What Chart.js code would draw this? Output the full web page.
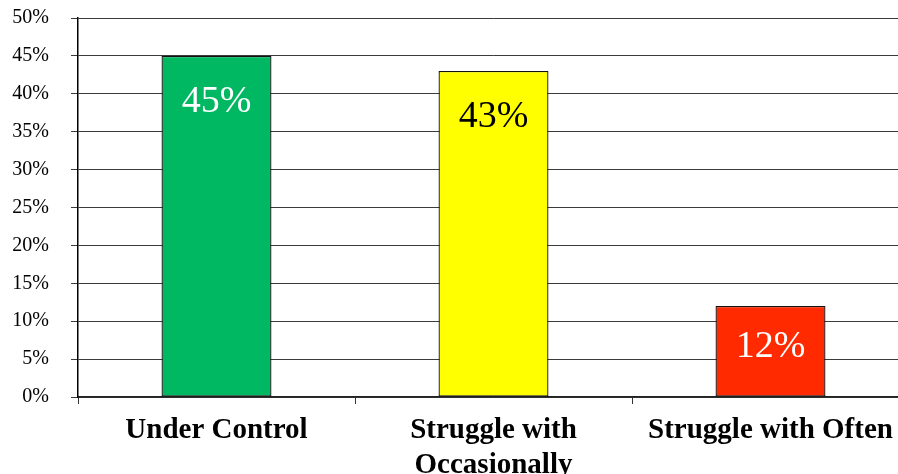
<!DOCTYPE html>
<html>
<head>
<meta charset="utf-8">
<script src="https://cdn.jsdelivr.net/npm/chart.js@4/dist/chart.umd.min.js"></script>
<style>
  html, body { margin: 0; padding: 0; background: #fff; overflow: hidden; }
  #wrap { position: relative; width: 909px; height: 474px; }
</style>
</head>
<body>
<div id="wrap"><canvas id="chart"></canvas></div>
<script>
// Survey responses: how well people keep the issue under control
const categories = ['Under Control', ['Struggle with', 'Occasionally'], 'Struggle with Often'];
const shares = [45, 43, 12];
const yTicks = [0, 5, 10, 15, 20, 25, 30, 35, 40, 45, 50];

const barColors = ['#00B862', '#FFFF00', '#FF2A00'];
const valueColors = ['#FFFFFF', '#000000', '#FFFFFF'];

// Writes each bar's percentage inside the bar, near its top
const valueLabels = {
  id: 'valueLabels',
  afterDatasetsDraw(chart) {
    const ctx = chart.ctx;
    const meta = chart.getDatasetMeta(0);
    ctx.save();
    ctx.font = '38px "Liberation Serif", serif';
    ctx.textAlign = 'center';
    ctx.textBaseline = 'middle';
    meta.data.forEach((bar, i) => {
      const h = bar.base - bar.y;
      const off = Math.min(46, h / 2 - 4);
      ctx.fillStyle = valueColors[i];
      ctx.fillText(shares[i] + '%', bar.x, bar.y + off);
    });
    ctx.restore();
  }
};

new Chart(document.getElementById('chart'), {
  type: 'bar',
  data: {
    labels: categories,
    datasets: [{
      data: shares,
      backgroundColor: barColors,
      borderColor: '#111',
      borderWidth: 1.3,
      borderSkipped: false,
      categoryPercentage: 1,
      barPercentage: 0.397
    }]
  },
  options: {
    responsive: true,
    maintainAspectRatio: false,
    animation: false,
    devicePixelRatio: 1,
    layout: { padding: { top: 18, right: 0, bottom: 0, left: 0 } },
    plugins: {
      legend: { display: false },
      tooltip: { enabled: false }
    },
    scales: {
      x: {
        offset: true,
        grid: {
          offset: true,
          drawOnChartArea: false,
          drawTicks: true,
          tickLength: 7,
          color: '#333'
        },
        border: { color: '#222', width: 1.5 },
        ticks: {
          color: '#000',
          padding: 9,
          maxRotation: 0,
          autoSkip: false,
          font: { family: '"Liberation Serif", serif', size: 29, weight: 'bold', lineHeight: 1.2 }
        },
        afterFit(scale) {
          scale.height = 77;
          scale.paddingTop = 0;
          scale.paddingBottom = 0;
        }
      },
      y: {
        min: 0,
        max: 50,
        afterBuildTicks(scale) { scale.ticks = yTicks.map(v => ({ value: v })); },
        grid: {
          color: '#3a3a3a',
          lineWidth: 1,
          drawTicks: true,
          tickLength: 7
        },
        border: { color: '#000', width: 1.5 },
        ticks: {
          color: '#000',
          padding: 22,
          font: { family: '"Liberation Serif", serif', size: 20 },
          callback: v => v + '%'
        },
        afterFit(scale) {
          scale.width = 78;
          scale.paddingTop = 0;
          scale.paddingBottom = 0;
        }
      }
    }
  },
  plugins: [valueLabels]
});
</script>
</body>
</html>
